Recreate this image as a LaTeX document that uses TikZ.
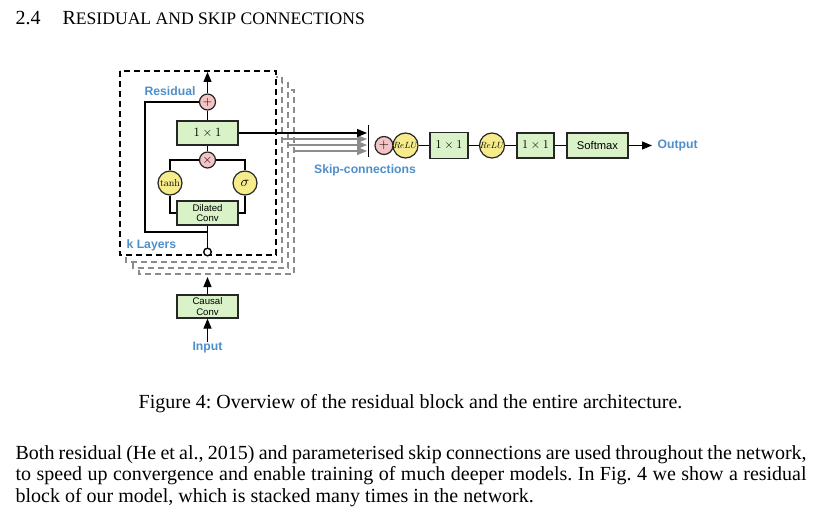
\documentclass[tikz,border=0pt]{standalone}
\usepackage[no-math]{fontspec}
\setmainfont{Liberation Serif}
\setsansfont{Liberation Sans}
\usetikzlibrary{arrows.meta}
\definecolor{boxgreen}{RGB}{217,242,200}
\definecolor{cpink}{RGB}{244,196,196}
\definecolor{cyellow}{RGB}{246,236,140}
\definecolor{lblue}{RGB}{78,143,203}
\frenchspacing
\newcommand{\shrinkmath}[2]{\scalebox{#1}{\fontsize{10}{12}\selectfont$#2$}}
\begin{document}
\begin{tikzpicture}[x=0.5pt,y=-0.5pt,line width=0.6pt,
  greenbox/.style={draw=black!85, fill=boxgreen, inner sep=0pt, minimum width=30.5pt, minimum height=12pt, font=\sffamily\fontsize{4.8}{5.4}\selectfont, align=center},
  pinkc/.style={circle, draw=black!85, fill=cpink, inner sep=0pt, minimum size=8pt},
  yellc/.style={circle, draw=black!85, fill=cyellow, inner sep=0pt, minimum size=12pt},
  bluelbl/.style={text=lblue, font=\sffamily\bfseries\fontsize{6.1}{7}\selectfont, inner sep=0pt},
  layerbox/.style={draw=black, dash pattern=on 3pt off 2pt, fill=white, line width=0.7pt},
  backbox/.style={layerbox, draw=black!45},
  arr/.style={-{Triangle[length=5pt,width=4pt]}},
  bodytext/.style={inner sep=0pt, anchor=base west, font=\fontsize{10}{10.75}\selectfont}
]
\fill[white] (0,0) rectangle (822,518);
\useasboundingbox (0,0) rectangle (822,518);

% heading
\node[bodytext] (secnum) at (15,25) {2.4};
\node[bodytext] (sectitle) at (62,25) {R{\fontsize{8.8}{9}\selectfont ESIDUAL AND SKIP CONNECTIONS}};

% stacked layer boxes
\draw[backbox] (139,90) rectangle (294,274);
\draw[backbox] (133,83) rectangle (288,268);
\draw[backbox] (126,77) rectangle (282,262);
\draw[layerbox] (120,71) rectangle (276,255);

% residual block
\node[pinkc] (plus) at (207.5,102) {\shrinkmath{0.62}{+}};
\node[greenbox] (res) at (207.5,133) {\shrinkmath{0.63}{1\times 1}};
\node[pinkc] (mul) at (207.5,160) {\shrinkmath{0.62}{\times}};
\node[yellc] (tanh) at (170,183) {\shrinkmath{0.5}{\tanh}};
\node[yellc] (sig) at (245,183) {\shrinkmath{0.72}{\sigma}};
\node[greenbox] (dil) at (207.5,213) {Dilated\\Conv};
\node[circle, draw=black, fill=white, inner sep=0pt, minimum size=3.8pt, line width=0.7pt] (inc) at (207.5,252) {};
\coordinate (top) at (207.5,72);
\coordinate (lt) at (145,102);
\coordinate (lb) at (145,232);
\coordinate (jn) at (207.5,232);
\coordinate (ml) at (170,160);
\coordinate (mr) at (245,160);
\coordinate (tl) at (170,213);
\coordinate (tr) at (245,213);

\draw[arr] (plus) -- (top);
\draw (res) -- (plus);
\draw (res) -- (mul);
\draw (mul.west) -- (ml) -- (tanh.north);
\draw (mul.east) -- (mr) -- (sig.north);
\draw (tanh.south) -- (tl) -- (dil.west);
\draw (sig.south) -- (tr) -- (dil.east);
\draw (plus.west) -- (lt) -- (lb) -- (jn);
\draw (dil.south) -- (inc.north);

\node[bluelbl] (reslbl) at (170,91) {Residual};
\node[bluelbl, anchor=west] (klbl) at (126,245) {k Layers};

% input
\node[greenbox, minimum height=11.5pt] (causal) at (207.5,306.5) {Causal\\Conv};
\node[bluelbl] (inlbl) at (207.5,348) {Input};
\coordinate (stackbot) at (207.5,277);
\draw[arr] (causal.north) -- (stackbot);
\draw[arr] (inlbl.north) -- (causal.south);

% skip connections
\coordinate (bar1) at (368.5,125);
\coordinate (bar2) at (368.5,157);
\coordinate (sk0) at (367,133);
\coordinate (g1a) at (282,139); \coordinate (g1b) at (367,139);
\coordinate (g2a) at (288,145); \coordinate (g2b) at (367,145);
\coordinate (g3a) at (294,151); \coordinate (g3b) at (367,151);
\draw[arr, draw=black!45, fill=black!45] (g1a) -- (g1b);
\draw[arr, draw=black!45, fill=black!45] (g2a) -- (g2b);
\draw[arr, draw=black!45, fill=black!45] (g3a) -- (g3b);
\draw[arr] (res.east) -- (sk0);
\draw[line width=0.8pt] (bar1) -- (bar2);
\node[bluelbl] (skiplbl) at (365,170) {Skip-connections};

% output chain
\node[pinkc, minimum size=9pt] (cplus) at (384,145.5) {\shrinkmath{0.65}{+}};
\node[yellc, minimum size=12.5pt] (relu1) at (405.5,145.5) {\shrinkmath{0.45}{ReLU}};
\node[greenbox, minimum width=19pt, minimum height=13pt] (c1) at (449,145.5) {\shrinkmath{0.6}{1\times 1}};
\node[yellc, minimum size=12.5pt] (relu2) at (492,145.5) {\shrinkmath{0.45}{ReLU}};
\node[greenbox, minimum width=18.5pt, minimum height=12.5pt] (c2) at (535.5,145.5) {\shrinkmath{0.6}{1\times 1}};
\node[greenbox, minimum width=30.5pt, minimum height=12.5pt, font=\sffamily\fontsize{5.6}{6}\selectfont] (soft) at (597.5,145.5) {Softmax};
\coordinate (outtip) at (652,145.5);
\node[bluelbl, anchor=west] (outlbl) at (657,145.5) {Output};
\draw (relu1) -- (c1);
\draw (c1) -- (relu2);
\draw (relu2) -- (c2);
\draw (c2) -- (soft);
\draw[arr] (soft.east) -- (outtip);

% caption and body
\node[bodytext, anchor=base] (caption) at (410.5,408) {Figure 4: Overview of the residual block and the entire architecture.};
\node[bodytext] (l1) at (15,459) {\makebox[395.5pt][s]{Both residual (He et al., 2015) and parameterised skip connections are used throughout the network,}};
\node[bodytext] (l2) at (15,480.5) {\makebox[395.5pt][s]{to speed up convergence and enable training of much deeper models. In Fig.~4 we show a residual}};
\node[bodytext] (l3) at (15,502) {block of our model, which is stacked many times in the network.};
\end{tikzpicture}
\end{document}
